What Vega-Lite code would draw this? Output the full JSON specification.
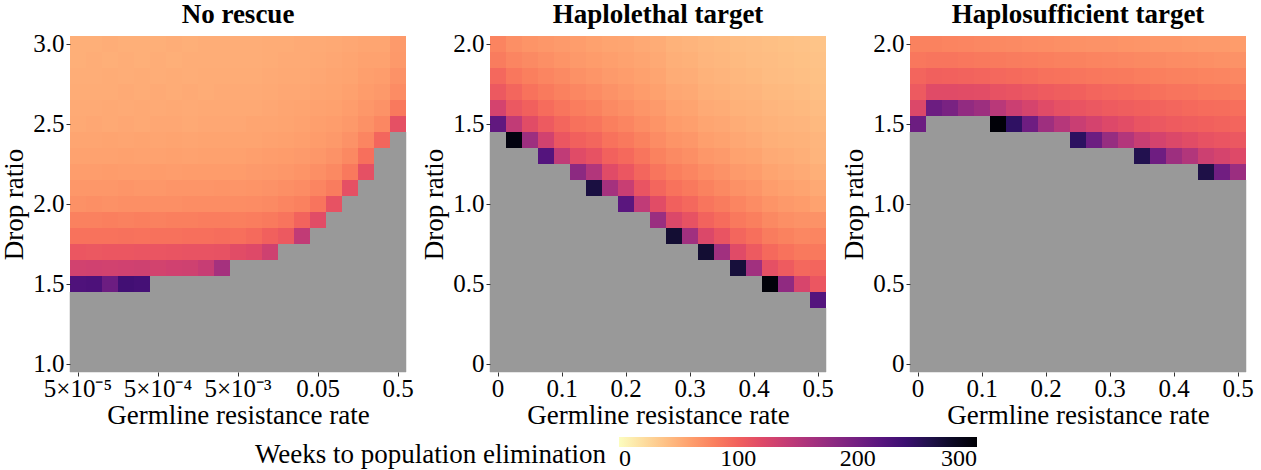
{
"$schema":"https://vega.github.io/schema/vega-lite/v6.json",
"background":"white",
"padding":{"left":0,"top":0,"right":0,"bottom":0},
"spacing":6,
"config":{
"font":"Liberation Serif",
"view":{"stroke":null},
"title":{"font":"Liberation Serif","fontSize":27,"fontWeight":"bold","color":"black","offset":3},
"axis":{"domain":false,"grid":false,"tickSize":4,"tickColor":"#333333","tickWidth":1,"labelFont":"Liberation Serif","labelFontSize":25,"labelColor":"black","labelPadding":2,"titleFont":"Liberation Serif","titleFontSize":27,"titleFontWeight":"normal","titleColor":"black"},
"axisX":{"labelAngle":0,"titlePadding":1,"labelPadding":0},
"axisY":{"titlePadding":4}
},
"resolve":{"scale":{"color":"shared"}},
"hconcat":[
{"title":"No rescue","width":336,"height":336,
"data":{"values":[
{"x":5e-5,"y":3,"w":50},{"x":5e-5,"y":2.9,"w":50},{"x":5e-5,"y":2.8,"w":51},{"x":5e-5,"y":2.7,"w":52},{"x":5e-5,"y":2.6,"w":53},{"x":5e-5,"y":2.5,"w":54},{"x":5e-5,"y":2.4,"w":56},{"x":5e-5,"y":2.3,"w":58},{"x":5e-5,"y":2.2,"w":61},{"x":5e-5,"y":2.1,"w":65},{"x":5e-5,"y":2,"w":69},{"x":5e-5,"y":1.9,"w":79},{"x":5e-5,"y":1.8,"w":88},{"x":5e-5,"y":1.7,"w":108},{"x":5e-5,"y":1.6,"w":130},{"x":5e-5,"y":1.5,"w":226},{"x":5e-5,"y":1.4},{"x":5e-5,"y":1.3},{"x":5e-5,"y":1.2},{"x":5e-5,"y":1.1},{"x":5e-5,"y":1},
{"x":7.92e-5,"y":3,"w":50},{"x":7.92e-5,"y":2.9,"w":51},{"x":7.92e-5,"y":2.8,"w":51},{"x":7.92e-5,"y":2.7,"w":52},{"x":7.92e-5,"y":2.6,"w":53},{"x":7.92e-5,"y":2.5,"w":55},{"x":7.92e-5,"y":2.4,"w":56},{"x":7.92e-5,"y":2.3,"w":58},{"x":7.92e-5,"y":2.2,"w":61},{"x":7.92e-5,"y":2.1,"w":65},{"x":7.92e-5,"y":2,"w":70},{"x":7.92e-5,"y":1.9,"w":79},{"x":7.92e-5,"y":1.8,"w":88},{"x":7.92e-5,"y":1.7,"w":107},{"x":7.92e-5,"y":1.6,"w":131},{"x":7.92e-5,"y":1.5,"w":228},{"x":7.92e-5,"y":1.4},{"x":7.92e-5,"y":1.3},{"x":7.92e-5,"y":1.2},{"x":7.92e-5,"y":1.1},{"x":7.92e-5,"y":1},
{"x":1.26e-4,"y":3,"w":51},{"x":1.26e-4,"y":2.9,"w":50},{"x":1.26e-4,"y":2.8,"w":52},{"x":1.26e-4,"y":2.7,"w":52},{"x":1.26e-4,"y":2.6,"w":54},{"x":1.26e-4,"y":2.5,"w":54},{"x":1.26e-4,"y":2.4,"w":57},{"x":1.26e-4,"y":2.3,"w":58},{"x":1.26e-4,"y":2.2,"w":62},{"x":1.26e-4,"y":2.1,"w":65},{"x":1.26e-4,"y":2,"w":69},{"x":1.26e-4,"y":1.9,"w":80},{"x":1.26e-4,"y":1.8,"w":88},{"x":1.26e-4,"y":1.7,"w":108},{"x":1.26e-4,"y":1.6,"w":130},{"x":1.26e-4,"y":1.5,"w":205},{"x":1.26e-4,"y":1.4},{"x":1.26e-4,"y":1.3},{"x":1.26e-4,"y":1.2},{"x":1.26e-4,"y":1.1},{"x":1.26e-4,"y":1},
{"x":1.99e-4,"y":3,"w":50},{"x":1.99e-4,"y":2.9,"w":51},{"x":1.99e-4,"y":2.8,"w":51},{"x":1.99e-4,"y":2.7,"w":53},{"x":1.99e-4,"y":2.6,"w":53},{"x":1.99e-4,"y":2.5,"w":55},{"x":1.99e-4,"y":2.4,"w":56},{"x":1.99e-4,"y":2.3,"w":59},{"x":1.99e-4,"y":2.2,"w":61},{"x":1.99e-4,"y":2.1,"w":66},{"x":1.99e-4,"y":2,"w":70},{"x":1.99e-4,"y":1.9,"w":79},{"x":1.99e-4,"y":1.8,"w":89},{"x":1.99e-4,"y":1.7,"w":108},{"x":1.99e-4,"y":1.6,"w":131},{"x":1.99e-4,"y":1.5,"w":235},{"x":1.99e-4,"y":1.4},{"x":1.99e-4,"y":1.3},{"x":1.99e-4,"y":1.2},{"x":1.99e-4,"y":1.1},{"x":1.99e-4,"y":1},
{"x":3.15e-4,"y":3,"w":50},{"x":3.15e-4,"y":2.9,"w":50},{"x":3.15e-4,"y":2.8,"w":52},{"x":3.15e-4,"y":2.7,"w":52},{"x":3.15e-4,"y":2.6,"w":54},{"x":3.15e-4,"y":2.5,"w":54},{"x":3.15e-4,"y":2.4,"w":57},{"x":3.15e-4,"y":2.3,"w":58},{"x":3.15e-4,"y":2.2,"w":61},{"x":3.15e-4,"y":2.1,"w":65},{"x":3.15e-4,"y":2,"w":70},{"x":3.15e-4,"y":1.9,"w":80},{"x":3.15e-4,"y":1.8,"w":88},{"x":3.15e-4,"y":1.7,"w":109},{"x":3.15e-4,"y":1.6,"w":132},{"x":3.15e-4,"y":1.5,"w":233},{"x":3.15e-4,"y":1.4},{"x":3.15e-4,"y":1.3},{"x":3.15e-4,"y":1.2},{"x":3.15e-4,"y":1.1},{"x":3.15e-4,"y":1},
{"x":5e-4,"y":3,"w":50},{"x":5e-4,"y":2.9,"w":51},{"x":5e-4,"y":2.8,"w":51},{"x":5e-4,"y":2.7,"w":53},{"x":5e-4,"y":2.6,"w":53},{"x":5e-4,"y":2.5,"w":55},{"x":5e-4,"y":2.4,"w":56},{"x":5e-4,"y":2.3,"w":58},{"x":5e-4,"y":2.2,"w":62},{"x":5e-4,"y":2.1,"w":65},{"x":5e-4,"y":2,"w":70},{"x":5e-4,"y":1.9,"w":79},{"x":5e-4,"y":1.8,"w":89},{"x":5e-4,"y":1.7,"w":109},{"x":5e-4,"y":1.6,"w":129},{"x":5e-4,"y":1.5},{"x":5e-4,"y":1.4},{"x":5e-4,"y":1.3},{"x":5e-4,"y":1.2},{"x":5e-4,"y":1.1},{"x":5e-4,"y":1},
{"x":7.92e-4,"y":3,"w":51},{"x":7.92e-4,"y":2.9,"w":50},{"x":7.92e-4,"y":2.8,"w":52},{"x":7.92e-4,"y":2.7,"w":52},{"x":7.92e-4,"y":2.6,"w":54},{"x":7.92e-4,"y":2.5,"w":55},{"x":7.92e-4,"y":2.4,"w":57},{"x":7.92e-4,"y":2.3,"w":59},{"x":7.92e-4,"y":2.2,"w":61},{"x":7.92e-4,"y":2.1,"w":66},{"x":7.92e-4,"y":2,"w":70},{"x":7.92e-4,"y":1.9,"w":80},{"x":7.92e-4,"y":1.8,"w":89},{"x":7.92e-4,"y":1.7,"w":110},{"x":7.92e-4,"y":1.6,"w":131},{"x":7.92e-4,"y":1.5},{"x":7.92e-4,"y":1.4},{"x":7.92e-4,"y":1.3},{"x":7.92e-4,"y":1.2},{"x":7.92e-4,"y":1.1},{"x":7.92e-4,"y":1},
{"x":1.26e-3,"y":3,"w":50},{"x":1.26e-3,"y":2.9,"w":51},{"x":1.26e-3,"y":2.8,"w":51},{"x":1.26e-3,"y":2.7,"w":53},{"x":1.26e-3,"y":2.6,"w":53},{"x":1.26e-3,"y":2.5,"w":54},{"x":1.26e-3,"y":2.4,"w":56},{"x":1.26e-3,"y":2.3,"w":58},{"x":1.26e-3,"y":2.2,"w":62},{"x":1.26e-3,"y":2.1,"w":66},{"x":1.26e-3,"y":2,"w":71},{"x":1.26e-3,"y":1.9,"w":80},{"x":1.26e-3,"y":1.8,"w":90},{"x":1.26e-3,"y":1.7,"w":111},{"x":1.26e-3,"y":1.6,"w":132},{"x":1.26e-3,"y":1.5},{"x":1.26e-3,"y":1.4},{"x":1.26e-3,"y":1.3},{"x":1.26e-3,"y":1.2},{"x":1.26e-3,"y":1.1},{"x":1.26e-3,"y":1},
{"x":1.99e-3,"y":3,"w":51},{"x":1.99e-3,"y":2.9,"w":51},{"x":1.99e-3,"y":2.8,"w":52},{"x":1.99e-3,"y":2.7,"w":52},{"x":1.99e-3,"y":2.6,"w":54},{"x":1.99e-3,"y":2.5,"w":55},{"x":1.99e-3,"y":2.4,"w":57},{"x":1.99e-3,"y":2.3,"w":59},{"x":1.99e-3,"y":2.2,"w":62},{"x":1.99e-3,"y":2.1,"w":66},{"x":1.99e-3,"y":2,"w":71},{"x":1.99e-3,"y":1.9,"w":81},{"x":1.99e-3,"y":1.8,"w":90},{"x":1.99e-3,"y":1.7,"w":111},{"x":1.99e-3,"y":1.6,"w":138},{"x":1.99e-3,"y":1.5},{"x":1.99e-3,"y":1.4},{"x":1.99e-3,"y":1.3},{"x":1.99e-3,"y":1.2},{"x":1.99e-3,"y":1.1},{"x":1.99e-3,"y":1},
{"x":3.15e-3,"y":3,"w":51},{"x":3.15e-3,"y":2.9,"w":51},{"x":3.15e-3,"y":2.8,"w":52},{"x":3.15e-3,"y":2.7,"w":53},{"x":3.15e-3,"y":2.6,"w":54},{"x":3.15e-3,"y":2.5,"w":55},{"x":3.15e-3,"y":2.4,"w":57},{"x":3.15e-3,"y":2.3,"w":59},{"x":3.15e-3,"y":2.2,"w":62},{"x":3.15e-3,"y":2.1,"w":67},{"x":3.15e-3,"y":2,"w":71},{"x":3.15e-3,"y":1.9,"w":81},{"x":3.15e-3,"y":1.8,"w":91},{"x":3.15e-3,"y":1.7,"w":112},{"x":3.15e-3,"y":1.6,"w":162},{"x":3.15e-3,"y":1.5},{"x":3.15e-3,"y":1.4},{"x":3.15e-3,"y":1.3},{"x":3.15e-3,"y":1.2},{"x":3.15e-3,"y":1.1},{"x":3.15e-3,"y":1},
{"x":5e-3,"y":3,"w":51},{"x":5e-3,"y":2.9,"w":51},{"x":5e-3,"y":2.8,"w":52},{"x":5e-3,"y":2.7,"w":53},{"x":5e-3,"y":2.6,"w":54},{"x":5e-3,"y":2.5,"w":55},{"x":5e-3,"y":2.4,"w":57},{"x":5e-3,"y":2.3,"w":59},{"x":5e-3,"y":2.2,"w":62},{"x":5e-3,"y":2.1,"w":66},{"x":5e-3,"y":2,"w":71},{"x":5e-3,"y":1.9,"w":80},{"x":5e-3,"y":1.8,"w":90},{"x":5e-3,"y":1.7,"w":117},{"x":5e-3,"y":1.6},{"x":5e-3,"y":1.5},{"x":5e-3,"y":1.4},{"x":5e-3,"y":1.3},{"x":5e-3,"y":1.2},{"x":5e-3,"y":1.1},{"x":5e-3,"y":1},
{"x":7.92e-3,"y":3,"w":51},{"x":7.92e-3,"y":2.9,"w":51},{"x":7.92e-3,"y":2.8,"w":52},{"x":7.92e-3,"y":2.7,"w":53},{"x":7.92e-3,"y":2.6,"w":54},{"x":7.92e-3,"y":2.5,"w":56},{"x":7.92e-3,"y":2.4,"w":57},{"x":7.92e-3,"y":2.3,"w":60},{"x":7.92e-3,"y":2.2,"w":63},{"x":7.92e-3,"y":2.1,"w":67},{"x":7.92e-3,"y":2,"w":72},{"x":7.92e-3,"y":1.9,"w":81},{"x":7.92e-3,"y":1.8,"w":93},{"x":7.92e-3,"y":1.7,"w":120},{"x":7.92e-3,"y":1.6},{"x":7.92e-3,"y":1.5},{"x":7.92e-3,"y":1.4},{"x":7.92e-3,"y":1.3},{"x":7.92e-3,"y":1.2},{"x":7.92e-3,"y":1.1},{"x":7.92e-3,"y":1},
{"x":0.0126,"y":3,"w":52},{"x":0.0126,"y":2.9,"w":52},{"x":0.0126,"y":2.8,"w":53},{"x":0.0126,"y":2.7,"w":54},{"x":0.0126,"y":2.6,"w":55},{"x":0.0126,"y":2.5,"w":56},{"x":0.0126,"y":2.4,"w":58},{"x":0.0126,"y":2.3,"w":61},{"x":0.0126,"y":2.2,"w":64},{"x":0.0126,"y":2.1,"w":68},{"x":0.0126,"y":2,"w":73},{"x":0.0126,"y":1.9,"w":83},{"x":0.0126,"y":1.8,"w":100},{"x":0.0126,"y":1.7,"w":132},{"x":0.0126,"y":1.6},{"x":0.0126,"y":1.5},{"x":0.0126,"y":1.4},{"x":0.0126,"y":1.3},{"x":0.0126,"y":1.2},{"x":0.0126,"y":1.1},{"x":0.0126,"y":1},
{"x":0.0199,"y":3,"w":52},{"x":0.0199,"y":2.9,"w":53},{"x":0.0199,"y":2.8,"w":54},{"x":0.0199,"y":2.7,"w":55},{"x":0.0199,"y":2.6,"w":56},{"x":0.0199,"y":2.5,"w":57},{"x":0.0199,"y":2.4,"w":59},{"x":0.0199,"y":2.3,"w":62},{"x":0.0199,"y":2.2,"w":65},{"x":0.0199,"y":2.1,"w":70},{"x":0.0199,"y":2,"w":76},{"x":0.0199,"y":1.9,"w":87},{"x":0.0199,"y":1.8,"w":106},{"x":0.0199,"y":1.7},{"x":0.0199,"y":1.6},{"x":0.0199,"y":1.5},{"x":0.0199,"y":1.4},{"x":0.0199,"y":1.3},{"x":0.0199,"y":1.2},{"x":0.0199,"y":1.1},{"x":0.0199,"y":1},
{"x":0.0315,"y":3,"w":53},{"x":0.0315,"y":2.9,"w":53},{"x":0.0315,"y":2.8,"w":54},{"x":0.0315,"y":2.7,"w":55},{"x":0.0315,"y":2.6,"w":57},{"x":0.0315,"y":2.5,"w":58},{"x":0.0315,"y":2.4,"w":60},{"x":0.0315,"y":2.3,"w":63},{"x":0.0315,"y":2.2,"w":67},{"x":0.0315,"y":2.1,"w":72},{"x":0.0315,"y":2,"w":79},{"x":0.0315,"y":1.9,"w":98},{"x":0.0315,"y":1.8,"w":142},{"x":0.0315,"y":1.7},{"x":0.0315,"y":1.6},{"x":0.0315,"y":1.5},{"x":0.0315,"y":1.4},{"x":0.0315,"y":1.3},{"x":0.0315,"y":1.2},{"x":0.0315,"y":1.1},{"x":0.0315,"y":1},
{"x":0.05,"y":3,"w":53},{"x":0.05,"y":2.9,"w":54},{"x":0.05,"y":2.8,"w":55},{"x":0.05,"y":2.7,"w":56},{"x":0.05,"y":2.6,"w":58},{"x":0.05,"y":2.5,"w":60},{"x":0.05,"y":2.4,"w":62},{"x":0.05,"y":2.3,"w":65},{"x":0.05,"y":2.2,"w":70},{"x":0.05,"y":2.1,"w":76},{"x":0.05,"y":2,"w":87},{"x":0.05,"y":1.9,"w":117},{"x":0.05,"y":1.8},{"x":0.05,"y":1.7},{"x":0.05,"y":1.6},{"x":0.05,"y":1.5},{"x":0.05,"y":1.4},{"x":0.05,"y":1.3},{"x":0.05,"y":1.2},{"x":0.05,"y":1.1},{"x":0.05,"y":1},
{"x":0.0792,"y":3,"w":54},{"x":0.0792,"y":2.9,"w":55},{"x":0.0792,"y":2.8,"w":56},{"x":0.0792,"y":2.7,"w":57},{"x":0.0792,"y":2.6,"w":59},{"x":0.0792,"y":2.5,"w":61},{"x":0.0792,"y":2.4,"w":64},{"x":0.0792,"y":2.3,"w":68},{"x":0.0792,"y":2.2,"w":74},{"x":0.0792,"y":2.1,"w":82},{"x":0.0792,"y":2,"w":112},{"x":0.0792,"y":1.9},{"x":0.0792,"y":1.8},{"x":0.0792,"y":1.7},{"x":0.0792,"y":1.6},{"x":0.0792,"y":1.5},{"x":0.0792,"y":1.4},{"x":0.0792,"y":1.3},{"x":0.0792,"y":1.2},{"x":0.0792,"y":1.1},{"x":0.0792,"y":1},
{"x":0.126,"y":3,"w":55},{"x":0.126,"y":2.9,"w":56},{"x":0.126,"y":2.8,"w":57},{"x":0.126,"y":2.7,"w":59},{"x":0.126,"y":2.6,"w":61},{"x":0.126,"y":2.5,"w":64},{"x":0.126,"y":2.4,"w":68},{"x":0.126,"y":2.3,"w":74},{"x":0.126,"y":2.2,"w":84},{"x":0.126,"y":2.1,"w":114},{"x":0.126,"y":2},{"x":0.126,"y":1.9},{"x":0.126,"y":1.8},{"x":0.126,"y":1.7},{"x":0.126,"y":1.6},{"x":0.126,"y":1.5},{"x":0.126,"y":1.4},{"x":0.126,"y":1.3},{"x":0.126,"y":1.2},{"x":0.126,"y":1.1},{"x":0.126,"y":1},
{"x":0.199,"y":3,"w":56},{"x":0.199,"y":2.9,"w":58},{"x":0.199,"y":2.8,"w":60},{"x":0.199,"y":2.7,"w":62},{"x":0.199,"y":2.6,"w":65},{"x":0.199,"y":2.5,"w":69},{"x":0.199,"y":2.4,"w":76},{"x":0.199,"y":2.3,"w":90},{"x":0.199,"y":2.2,"w":114},{"x":0.199,"y":2.1},{"x":0.199,"y":2},{"x":0.199,"y":1.9},{"x":0.199,"y":1.8},{"x":0.199,"y":1.7},{"x":0.199,"y":1.6},{"x":0.199,"y":1.5},{"x":0.199,"y":1.4},{"x":0.199,"y":1.3},{"x":0.199,"y":1.2},{"x":0.199,"y":1.1},{"x":0.199,"y":1},
{"x":0.315,"y":3,"w":56},{"x":0.315,"y":2.9,"w":58},{"x":0.315,"y":2.8,"w":61},{"x":0.315,"y":2.7,"w":64},{"x":0.315,"y":2.6,"w":68},{"x":0.315,"y":2.5,"w":75},{"x":0.315,"y":2.4,"w":96},{"x":0.315,"y":2.3},{"x":0.315,"y":2.2},{"x":0.315,"y":2.1},{"x":0.315,"y":2},{"x":0.315,"y":1.9},{"x":0.315,"y":1.8},{"x":0.315,"y":1.7},{"x":0.315,"y":1.6},{"x":0.315,"y":1.5},{"x":0.315,"y":1.4},{"x":0.315,"y":1.3},{"x":0.315,"y":1.2},{"x":0.315,"y":1.1},{"x":0.315,"y":1},
{"x":0.5,"y":3,"w":63},{"x":0.5,"y":2.9,"w":64},{"x":0.5,"y":2.8,"w":68},{"x":0.5,"y":2.7,"w":72},{"x":0.5,"y":2.6,"w":84},{"x":0.5,"y":2.5,"w":114},{"x":0.5,"y":2.4},{"x":0.5,"y":2.3},{"x":0.5,"y":2.2},{"x":0.5,"y":2.1},{"x":0.5,"y":2},{"x":0.5,"y":1.9},{"x":0.5,"y":1.8},{"x":0.5,"y":1.7},{"x":0.5,"y":1.6},{"x":0.5,"y":1.5},{"x":0.5,"y":1.4},{"x":0.5,"y":1.3},{"x":0.5,"y":1.2},{"x":0.5,"y":1.1},{"x":0.5,"y":1}
]},
"encoding":{
"x":{"field":"x","type":"ordinal","title":"Germline resistance rate","scale":{"paddingInner":0,"paddingOuter":0},"axis":{"values":[0.00005,0.0005,0.005,0.05,0.5],"labelExpr":"datum.value == 0.00005 ? '5×10⁻⁵' : datum.value == 0.0005 ? '5×10⁻⁴' : datum.value == 0.005 ? '5×10⁻³' : datum.label"}},
"y":{"field":"y","type":"ordinal","title":"Drop ratio","scale":{"domain":[3,2.9,2.8,2.7,2.6,2.5,2.4,2.3,2.2,2.1,2,1.9,1.8,1.7,1.6,1.5,1.4,1.3,1.2,1.1,1],"paddingInner":0,"paddingOuter":0},"axis":{"values":[3,2.5,2,1.5,1],"labelExpr":"format(datum.value, '.1f')"}}
},
"layer":[
{"transform":[{"filter":"!isValid(datum.w)"}],"mark":{"type":"rect","color":"#999999","stroke":"#999999","strokeWidth":0.5},"encoding":{}},
{"transform":[{"filter":"isValid(datum.w)"}],"mark":{"type":"rect"},"encoding":{
"color":{"field":"w","type":"quantitative","scale":{"scheme":"magma","reverse":true,"domain":[0,300]},"legend":{"type":"gradient","title":"Weeks to population elimination","orient":"none","legendX":185,"legendY":401,"direction":"horizontal","titleOrient":"left","titleBaseline":"top","titleLimit":800,"gradientLength":358,"gradientThickness":10,"values":[0,100,200,300],"labelFontSize":24,"labelOffset":0,"labelFont":"Liberation Serif","labelColor":"black","labelAlign":"center","titleFontSize":27,"titleFont":"Liberation Serif","titleFontWeight":"normal","titleColor":"black","titlePadding":12,"gradientStrokeWidth":0}}}}
]},
{"title":"Haplolethal target","width":336,"height":336,
"data":{"values":[
{"x":0,"y":0},{"x":0,"y":0.1},{"x":0,"y":0.2},{"x":0,"y":0.3},{"x":0,"y":0.4},{"x":0,"y":0.5},{"x":0,"y":0.6},{"x":0,"y":0.7},{"x":0,"y":0.8},{"x":0,"y":0.9},{"x":0,"y":1},{"x":0,"y":1.1},{"x":0,"y":1.2},{"x":0,"y":1.3},{"x":0,"y":1.4},{"x":0,"y":1.5,"w":213},{"x":0,"y":1.6,"w":128},{"x":0,"y":1.7,"w":106},{"x":0,"y":1.8,"w":95},{"x":0,"y":1.9,"w":82},{"x":0,"y":2,"w":77},
{"x":0.025,"y":0},{"x":0.025,"y":0.1},{"x":0.025,"y":0.2},{"x":0.025,"y":0.3},{"x":0.025,"y":0.4},{"x":0.025,"y":0.5},{"x":0.025,"y":0.6},{"x":0.025,"y":0.7},{"x":0.025,"y":0.8},{"x":0.025,"y":0.9},{"x":0.025,"y":1},{"x":0.025,"y":1.1},{"x":0.025,"y":1.2},{"x":0.025,"y":1.3},{"x":0.025,"y":1.4,"w":292},{"x":0.025,"y":1.5,"w":142},{"x":0.025,"y":1.6,"w":107},{"x":0.025,"y":1.7,"w":96},{"x":0.025,"y":1.8,"w":85},{"x":0.025,"y":1.9,"w":76},{"x":0.025,"y":2,"w":70},
{"x":0.05,"y":0},{"x":0.05,"y":0.1},{"x":0.05,"y":0.2},{"x":0.05,"y":0.3},{"x":0.05,"y":0.4},{"x":0.05,"y":0.5},{"x":0.05,"y":0.6},{"x":0.05,"y":0.7},{"x":0.05,"y":0.8},{"x":0.05,"y":0.9},{"x":0.05,"y":1},{"x":0.05,"y":1.1},{"x":0.05,"y":1.2},{"x":0.05,"y":1.3},{"x":0.05,"y":1.4,"w":168},{"x":0.05,"y":1.5,"w":117},{"x":0.05,"y":1.6,"w":100},{"x":0.05,"y":1.7,"w":88},{"x":0.05,"y":1.8,"w":80},{"x":0.05,"y":1.9,"w":73},{"x":0.05,"y":2,"w":67},
{"x":0.075,"y":0},{"x":0.075,"y":0.1},{"x":0.075,"y":0.2},{"x":0.075,"y":0.3},{"x":0.075,"y":0.4},{"x":0.075,"y":0.5},{"x":0.075,"y":0.6},{"x":0.075,"y":0.7},{"x":0.075,"y":0.8},{"x":0.075,"y":0.9},{"x":0.075,"y":1},{"x":0.075,"y":1.1},{"x":0.075,"y":1.2},{"x":0.075,"y":1.3,"w":222},{"x":0.075,"y":1.4,"w":130},{"x":0.075,"y":1.5,"w":105},{"x":0.075,"y":1.6,"w":92},{"x":0.075,"y":1.7,"w":83},{"x":0.075,"y":1.8,"w":76},{"x":0.075,"y":1.9,"w":70},{"x":0.075,"y":2,"w":65},
{"x":0.1,"y":0},{"x":0.1,"y":0.1},{"x":0.1,"y":0.2},{"x":0.1,"y":0.3},{"x":0.1,"y":0.4},{"x":0.1,"y":0.5},{"x":0.1,"y":0.6},{"x":0.1,"y":0.7},{"x":0.1,"y":0.8},{"x":0.1,"y":0.9},{"x":0.1,"y":1},{"x":0.1,"y":1.1},{"x":0.1,"y":1.2},{"x":0.1,"y":1.3,"w":143},{"x":0.1,"y":1.4,"w":108},{"x":0.1,"y":1.5,"w":96},{"x":0.1,"y":1.6,"w":86},{"x":0.1,"y":1.7,"w":79},{"x":0.1,"y":1.8,"w":73},{"x":0.1,"y":1.9,"w":67},{"x":0.1,"y":2,"w":63},
{"x":0.125,"y":0},{"x":0.125,"y":0.1},{"x":0.125,"y":0.2},{"x":0.125,"y":0.3},{"x":0.125,"y":0.4},{"x":0.125,"y":0.5},{"x":0.125,"y":0.6},{"x":0.125,"y":0.7},{"x":0.125,"y":0.8},{"x":0.125,"y":0.9},{"x":0.125,"y":1},{"x":0.125,"y":1.1},{"x":0.125,"y":1.2,"w":180},{"x":0.125,"y":1.3,"w":118},{"x":0.125,"y":1.4,"w":100},{"x":0.125,"y":1.5,"w":89},{"x":0.125,"y":1.6,"w":81},{"x":0.125,"y":1.7,"w":75},{"x":0.125,"y":1.8,"w":69},{"x":0.125,"y":1.9,"w":64},{"x":0.125,"y":2,"w":61},
{"x":0.15,"y":0},{"x":0.15,"y":0.1},{"x":0.15,"y":0.2},{"x":0.15,"y":0.3},{"x":0.15,"y":0.4},{"x":0.15,"y":0.5},{"x":0.15,"y":0.6},{"x":0.15,"y":0.7},{"x":0.15,"y":0.8},{"x":0.15,"y":0.9},{"x":0.15,"y":1},{"x":0.15,"y":1.1,"w":265},{"x":0.15,"y":1.2,"w":153},{"x":0.15,"y":1.3,"w":112},{"x":0.15,"y":1.4,"w":96},{"x":0.15,"y":1.5,"w":86},{"x":0.15,"y":1.6,"w":78},{"x":0.15,"y":1.7,"w":72},{"x":0.15,"y":1.8,"w":66},{"x":0.15,"y":1.9,"w":62},{"x":0.15,"y":2,"w":59},
{"x":0.175,"y":0},{"x":0.175,"y":0.1},{"x":0.175,"y":0.2},{"x":0.175,"y":0.3},{"x":0.175,"y":0.4},{"x":0.175,"y":0.5},{"x":0.175,"y":0.6},{"x":0.175,"y":0.7},{"x":0.175,"y":0.8},{"x":0.175,"y":0.9},{"x":0.175,"y":1},{"x":0.175,"y":1.1,"w":162},{"x":0.175,"y":1.2,"w":118},{"x":0.175,"y":1.3,"w":99},{"x":0.175,"y":1.4,"w":88},{"x":0.175,"y":1.5,"w":80},{"x":0.175,"y":1.6,"w":73},{"x":0.175,"y":1.7,"w":68},{"x":0.175,"y":1.8,"w":63},{"x":0.175,"y":1.9,"w":60},{"x":0.175,"y":2,"w":57},
{"x":0.2,"y":0},{"x":0.2,"y":0.1},{"x":0.2,"y":0.2},{"x":0.2,"y":0.3},{"x":0.2,"y":0.4},{"x":0.2,"y":0.5},{"x":0.2,"y":0.6},{"x":0.2,"y":0.7},{"x":0.2,"y":0.8},{"x":0.2,"y":0.9},{"x":0.2,"y":1,"w":218},{"x":0.2,"y":1.1,"w":137},{"x":0.2,"y":1.2,"w":108},{"x":0.2,"y":1.3,"w":94},{"x":0.2,"y":1.4,"w":84},{"x":0.2,"y":1.5,"w":76},{"x":0.2,"y":1.6,"w":70},{"x":0.2,"y":1.7,"w":65},{"x":0.2,"y":1.8,"w":61},{"x":0.2,"y":1.9,"w":58},{"x":0.2,"y":2,"w":56},
{"x":0.225,"y":0},{"x":0.225,"y":0.1},{"x":0.225,"y":0.2},{"x":0.225,"y":0.3},{"x":0.225,"y":0.4},{"x":0.225,"y":0.5},{"x":0.225,"y":0.6},{"x":0.225,"y":0.7},{"x":0.225,"y":0.8},{"x":0.225,"y":0.9},{"x":0.225,"y":1,"w":143},{"x":0.225,"y":1.1,"w":110},{"x":0.225,"y":1.2,"w":96},{"x":0.225,"y":1.3,"w":86},{"x":0.225,"y":1.4,"w":78},{"x":0.225,"y":1.5,"w":71},{"x":0.225,"y":1.6,"w":66},{"x":0.225,"y":1.7,"w":62},{"x":0.225,"y":1.8,"w":59},{"x":0.225,"y":1.9,"w":56},{"x":0.225,"y":2,"w":54},
{"x":0.25,"y":0},{"x":0.25,"y":0.1},{"x":0.25,"y":0.2},{"x":0.25,"y":0.3},{"x":0.25,"y":0.4},{"x":0.25,"y":0.5},{"x":0.25,"y":0.6},{"x":0.25,"y":0.7},{"x":0.25,"y":0.8},{"x":0.25,"y":0.9,"w":170},{"x":0.25,"y":1,"w":117},{"x":0.25,"y":1.1,"w":96},{"x":0.25,"y":1.2,"w":86},{"x":0.25,"y":1.3,"w":78},{"x":0.25,"y":1.4,"w":72},{"x":0.25,"y":1.5,"w":67},{"x":0.25,"y":1.6,"w":63},{"x":0.25,"y":1.7,"w":59},{"x":0.25,"y":1.8,"w":56},{"x":0.25,"y":1.9,"w":54},{"x":0.25,"y":2,"w":52},
{"x":0.275,"y":0},{"x":0.275,"y":0.1},{"x":0.275,"y":0.2},{"x":0.275,"y":0.3},{"x":0.275,"y":0.4},{"x":0.275,"y":0.5},{"x":0.275,"y":0.6},{"x":0.275,"y":0.7},{"x":0.275,"y":0.8,"w":272},{"x":0.275,"y":0.9,"w":122},{"x":0.275,"y":1,"w":100},{"x":0.275,"y":1.1,"w":88},{"x":0.275,"y":1.2,"w":80},{"x":0.275,"y":1.3,"w":73},{"x":0.275,"y":1.4,"w":67},{"x":0.275,"y":1.5,"w":62},{"x":0.275,"y":1.6,"w":58},{"x":0.275,"y":1.7,"w":55},{"x":0.275,"y":1.8,"w":52},{"x":0.275,"y":1.9,"w":50},{"x":0.275,"y":2,"w":48},
{"x":0.3,"y":0},{"x":0.3,"y":0.1},{"x":0.3,"y":0.2},{"x":0.3,"y":0.3},{"x":0.3,"y":0.4},{"x":0.3,"y":0.5},{"x":0.3,"y":0.6},{"x":0.3,"y":0.7},{"x":0.3,"y":0.8,"w":165},{"x":0.3,"y":0.9,"w":112},{"x":0.3,"y":1,"w":95},{"x":0.3,"y":1.1,"w":84},{"x":0.3,"y":1.2,"w":76},{"x":0.3,"y":1.3,"w":70},{"x":0.3,"y":1.4,"w":65},{"x":0.3,"y":1.5,"w":60},{"x":0.3,"y":1.6,"w":57},{"x":0.3,"y":1.7,"w":54},{"x":0.3,"y":1.8,"w":51},{"x":0.3,"y":1.9,"w":49},{"x":0.3,"y":2,"w":47},
{"x":0.325,"y":0},{"x":0.325,"y":0.1},{"x":0.325,"y":0.2},{"x":0.325,"y":0.3},{"x":0.325,"y":0.4},{"x":0.325,"y":0.5},{"x":0.325,"y":0.6},{"x":0.325,"y":0.7,"w":272},{"x":0.325,"y":0.8,"w":122},{"x":0.325,"y":0.9,"w":98},{"x":0.325,"y":1,"w":86},{"x":0.325,"y":1.1,"w":78},{"x":0.325,"y":1.2,"w":71},{"x":0.325,"y":1.3,"w":65},{"x":0.325,"y":1.4,"w":60},{"x":0.325,"y":1.5,"w":56},{"x":0.325,"y":1.6,"w":53},{"x":0.325,"y":1.7,"w":50},{"x":0.325,"y":1.8,"w":48},{"x":0.325,"y":1.9,"w":46},{"x":0.325,"y":2,"w":45},
{"x":0.35,"y":0},{"x":0.35,"y":0.1},{"x":0.35,"y":0.2},{"x":0.35,"y":0.3},{"x":0.35,"y":0.4},{"x":0.35,"y":0.5},{"x":0.35,"y":0.6},{"x":0.35,"y":0.7,"w":165},{"x":0.35,"y":0.8,"w":110},{"x":0.35,"y":0.9,"w":92},{"x":0.35,"y":1,"w":82},{"x":0.35,"y":1.1,"w":74},{"x":0.35,"y":1.2,"w":68},{"x":0.35,"y":1.3,"w":63},{"x":0.35,"y":1.4,"w":58},{"x":0.35,"y":1.5,"w":55},{"x":0.35,"y":1.6,"w":52},{"x":0.35,"y":1.7,"w":49},{"x":0.35,"y":1.8,"w":47},{"x":0.35,"y":1.9,"w":45},{"x":0.35,"y":2,"w":44},
{"x":0.375,"y":0},{"x":0.375,"y":0.1},{"x":0.375,"y":0.2},{"x":0.375,"y":0.3},{"x":0.375,"y":0.4},{"x":0.375,"y":0.5},{"x":0.375,"y":0.6,"w":268},{"x":0.375,"y":0.7,"w":118},{"x":0.375,"y":0.8,"w":96},{"x":0.375,"y":0.9,"w":84},{"x":0.375,"y":1,"w":76},{"x":0.375,"y":1.1,"w":69},{"x":0.375,"y":1.2,"w":63},{"x":0.375,"y":1.3,"w":58},{"x":0.375,"y":1.4,"w":55},{"x":0.375,"y":1.5,"w":52},{"x":0.375,"y":1.6,"w":49},{"x":0.375,"y":1.7,"w":47},{"x":0.375,"y":1.8,"w":45},{"x":0.375,"y":1.9,"w":43},{"x":0.375,"y":2,"w":42},
{"x":0.4,"y":0},{"x":0.4,"y":0.1},{"x":0.4,"y":0.2},{"x":0.4,"y":0.3},{"x":0.4,"y":0.4},{"x":0.4,"y":0.5},{"x":0.4,"y":0.6,"w":165},{"x":0.4,"y":0.7,"w":105},{"x":0.4,"y":0.8,"w":90},{"x":0.4,"y":0.9,"w":80},{"x":0.4,"y":1,"w":72},{"x":0.4,"y":1.1,"w":66},{"x":0.4,"y":1.2,"w":61},{"x":0.4,"y":1.3,"w":57},{"x":0.4,"y":1.4,"w":53},{"x":0.4,"y":1.5,"w":50},{"x":0.4,"y":1.6,"w":48},{"x":0.4,"y":1.7,"w":46},{"x":0.4,"y":1.8,"w":44},{"x":0.4,"y":1.9,"w":42},{"x":0.4,"y":2,"w":41},
{"x":0.425,"y":0},{"x":0.425,"y":0.1},{"x":0.425,"y":0.2},{"x":0.425,"y":0.3},{"x":0.425,"y":0.4},{"x":0.425,"y":0.5,"w":296},{"x":0.425,"y":0.6,"w":114},{"x":0.425,"y":0.7,"w":94},{"x":0.425,"y":0.8,"w":82},{"x":0.425,"y":0.9,"w":74},{"x":0.425,"y":1,"w":67},{"x":0.425,"y":1.1,"w":61},{"x":0.425,"y":1.2,"w":57},{"x":0.425,"y":1.3,"w":53},{"x":0.425,"y":1.4,"w":50},{"x":0.425,"y":1.5,"w":48},{"x":0.425,"y":1.6,"w":46},{"x":0.425,"y":1.7,"w":44},{"x":0.425,"y":1.8,"w":42},{"x":0.425,"y":1.9,"w":41},{"x":0.425,"y":2,"w":40},
{"x":0.45,"y":0},{"x":0.45,"y":0.1},{"x":0.45,"y":0.2},{"x":0.45,"y":0.3},{"x":0.45,"y":0.4},{"x":0.45,"y":0.5,"w":177},{"x":0.45,"y":0.6,"w":104},{"x":0.45,"y":0.7,"w":88},{"x":0.45,"y":0.8,"w":78},{"x":0.45,"y":0.9,"w":70},{"x":0.45,"y":1,"w":64},{"x":0.45,"y":1.1,"w":59},{"x":0.45,"y":1.2,"w":55},{"x":0.45,"y":1.3,"w":52},{"x":0.45,"y":1.4,"w":49},{"x":0.45,"y":1.5,"w":47},{"x":0.45,"y":1.6,"w":45},{"x":0.45,"y":1.7,"w":43},{"x":0.45,"y":1.8,"w":41},{"x":0.45,"y":1.9,"w":40},{"x":0.45,"y":2,"w":39},
{"x":0.475,"y":0},{"x":0.475,"y":0.1},{"x":0.475,"y":0.2},{"x":0.475,"y":0.3},{"x":0.475,"y":0.4},{"x":0.475,"y":0.5,"w":125},{"x":0.475,"y":0.6,"w":95},{"x":0.475,"y":0.7,"w":84},{"x":0.475,"y":0.8,"w":75},{"x":0.475,"y":0.9,"w":68},{"x":0.475,"y":1,"w":62},{"x":0.475,"y":1.1,"w":57},{"x":0.475,"y":1.2,"w":53},{"x":0.475,"y":1.3,"w":50},{"x":0.475,"y":1.4,"w":48},{"x":0.475,"y":1.5,"w":46},{"x":0.475,"y":1.6,"w":44},{"x":0.475,"y":1.7,"w":42},{"x":0.475,"y":1.8,"w":40},{"x":0.475,"y":1.9,"w":39},{"x":0.475,"y":2,"w":38},
{"x":0.5,"y":0},{"x":0.5,"y":0.1},{"x":0.5,"y":0.2},{"x":0.5,"y":0.3},{"x":0.5,"y":0.4,"w":222},{"x":0.5,"y":0.5,"w":108},{"x":0.5,"y":0.6,"w":97},{"x":0.5,"y":0.7,"w":84},{"x":0.5,"y":0.8,"w":76},{"x":0.5,"y":0.9,"w":68},{"x":0.5,"y":1,"w":58},{"x":0.5,"y":1.1,"w":54},{"x":0.5,"y":1.2,"w":50},{"x":0.5,"y":1.3,"w":47},{"x":0.5,"y":1.4,"w":46},{"x":0.5,"y":1.5,"w":44},{"x":0.5,"y":1.6,"w":42},{"x":0.5,"y":1.7,"w":40},{"x":0.5,"y":1.8,"w":39},{"x":0.5,"y":1.9,"w":38},{"x":0.5,"y":2,"w":37}
]},
"encoding":{
"x":{"field":"x","type":"ordinal","title":"Germline resistance rate","scale":{"paddingInner":0,"paddingOuter":0},"axis":{"values":[0,0.1,0.2,0.3,0.4,0.5]}},
"y":{"field":"y","type":"ordinal","title":"Drop ratio","scale":{"domain":[2,1.9,1.8,1.7,1.6,1.5,1.4,1.3,1.2,1.1,1,0.9,0.8,0.7,0.6,0.5,0.4,0.3,0.2,0.1,0],"paddingInner":0,"paddingOuter":0},"axis":{"values":[2,1.5,1,0.5,0],"labelExpr":"datum.value == 0 ? '0' : format(datum.value, '.1f')"}}
},
"layer":[
{"transform":[{"filter":"!isValid(datum.w)"}],"mark":{"type":"rect","color":"#999999","stroke":"#999999","strokeWidth":0.5},"encoding":{}},
{"transform":[{"filter":"isValid(datum.w)"}],"mark":{"type":"rect"},"encoding":{
"color":{"field":"w","type":"quantitative","scale":{"scheme":"magma","reverse":true,"domain":[0,300]},"legend":{"type":"gradient","title":"Weeks to population elimination","orient":"none","legendX":185,"legendY":401,"direction":"horizontal","titleOrient":"left","titleBaseline":"top","titleLimit":800,"gradientLength":358,"gradientThickness":10,"values":[0,100,200,300],"labelFontSize":24,"labelOffset":0,"labelFont":"Liberation Serif","labelColor":"black","labelAlign":"center","titleFontSize":27,"titleFont":"Liberation Serif","titleFontWeight":"normal","titleColor":"black","titlePadding":12,"gradientStrokeWidth":0}}}}
]},
{"title":"Haplosufficient target","width":336,"height":336,
"data":{"values":[
{"x":0,"y":0},{"x":0,"y":0.1},{"x":0,"y":0.2},{"x":0,"y":0.3},{"x":0,"y":0.4},{"x":0,"y":0.5},{"x":0,"y":0.6},{"x":0,"y":0.7},{"x":0,"y":0.8},{"x":0,"y":0.9},{"x":0,"y":1},{"x":0,"y":1.1},{"x":0,"y":1.2},{"x":0,"y":1.3},{"x":0,"y":1.4},{"x":0,"y":1.5,"w":205},{"x":0,"y":1.6,"w":122},{"x":0,"y":1.7,"w":105},{"x":0,"y":1.8,"w":97},{"x":0,"y":1.9,"w":85},{"x":0,"y":2,"w":78},
{"x":0.025,"y":0},{"x":0.025,"y":0.1},{"x":0.025,"y":0.2},{"x":0.025,"y":0.3},{"x":0.025,"y":0.4},{"x":0.025,"y":0.5},{"x":0.025,"y":0.6},{"x":0.025,"y":0.7},{"x":0.025,"y":0.8},{"x":0.025,"y":0.9},{"x":0.025,"y":1},{"x":0.025,"y":1.1},{"x":0.025,"y":1.2},{"x":0.025,"y":1.3},{"x":0.025,"y":1.4},{"x":0.025,"y":1.5},{"x":0.025,"y":1.6,"w":205},{"x":0.025,"y":1.7,"w":118},{"x":0.025,"y":1.8,"w":100},{"x":0.025,"y":1.9,"w":86},{"x":0.025,"y":2,"w":78},
{"x":0.05,"y":0},{"x":0.05,"y":0.1},{"x":0.05,"y":0.2},{"x":0.05,"y":0.3},{"x":0.05,"y":0.4},{"x":0.05,"y":0.5},{"x":0.05,"y":0.6},{"x":0.05,"y":0.7},{"x":0.05,"y":0.8},{"x":0.05,"y":0.9},{"x":0.05,"y":1},{"x":0.05,"y":1.1},{"x":0.05,"y":1.2},{"x":0.05,"y":1.3},{"x":0.05,"y":1.4},{"x":0.05,"y":1.5},{"x":0.05,"y":1.6,"w":195},{"x":0.05,"y":1.7,"w":118},{"x":0.05,"y":1.8,"w":99},{"x":0.05,"y":1.9,"w":86},{"x":0.05,"y":2,"w":77},
{"x":0.075,"y":0},{"x":0.075,"y":0.1},{"x":0.075,"y":0.2},{"x":0.075,"y":0.3},{"x":0.075,"y":0.4},{"x":0.075,"y":0.5},{"x":0.075,"y":0.6},{"x":0.075,"y":0.7},{"x":0.075,"y":0.8},{"x":0.075,"y":0.9},{"x":0.075,"y":1},{"x":0.075,"y":1.1},{"x":0.075,"y":1.2},{"x":0.075,"y":1.3},{"x":0.075,"y":1.4},{"x":0.075,"y":1.5},{"x":0.075,"y":1.6,"w":176},{"x":0.075,"y":1.7,"w":117},{"x":0.075,"y":1.8,"w":98},{"x":0.075,"y":1.9,"w":85},{"x":0.075,"y":2,"w":76},
{"x":0.1,"y":0},{"x":0.1,"y":0.1},{"x":0.1,"y":0.2},{"x":0.1,"y":0.3},{"x":0.1,"y":0.4},{"x":0.1,"y":0.5},{"x":0.1,"y":0.6},{"x":0.1,"y":0.7},{"x":0.1,"y":0.8},{"x":0.1,"y":0.9},{"x":0.1,"y":1},{"x":0.1,"y":1.1},{"x":0.1,"y":1.2},{"x":0.1,"y":1.3},{"x":0.1,"y":1.4},{"x":0.1,"y":1.5},{"x":0.1,"y":1.6,"w":168},{"x":0.1,"y":1.7,"w":116},{"x":0.1,"y":1.8,"w":97},{"x":0.1,"y":1.9,"w":84},{"x":0.1,"y":2,"w":75},
{"x":0.125,"y":0},{"x":0.125,"y":0.1},{"x":0.125,"y":0.2},{"x":0.125,"y":0.3},{"x":0.125,"y":0.4},{"x":0.125,"y":0.5},{"x":0.125,"y":0.6},{"x":0.125,"y":0.7},{"x":0.125,"y":0.8},{"x":0.125,"y":0.9},{"x":0.125,"y":1},{"x":0.125,"y":1.1},{"x":0.125,"y":1.2},{"x":0.125,"y":1.3},{"x":0.125,"y":1.4},{"x":0.125,"y":1.5,"w":297},{"x":0.125,"y":1.6,"w":148},{"x":0.125,"y":1.7,"w":112},{"x":0.125,"y":1.8,"w":95},{"x":0.125,"y":1.9,"w":83},{"x":0.125,"y":2,"w":74},
{"x":0.15,"y":0},{"x":0.15,"y":0.1},{"x":0.15,"y":0.2},{"x":0.15,"y":0.3},{"x":0.15,"y":0.4},{"x":0.15,"y":0.5},{"x":0.15,"y":0.6},{"x":0.15,"y":0.7},{"x":0.15,"y":0.8},{"x":0.15,"y":0.9},{"x":0.15,"y":1},{"x":0.15,"y":1.1},{"x":0.15,"y":1.2},{"x":0.15,"y":1.3},{"x":0.15,"y":1.4},{"x":0.15,"y":1.5,"w":248},{"x":0.15,"y":1.6,"w":135},{"x":0.15,"y":1.7,"w":110},{"x":0.15,"y":1.8,"w":93},{"x":0.15,"y":1.9,"w":82},{"x":0.15,"y":2,"w":73},
{"x":0.175,"y":0},{"x":0.175,"y":0.1},{"x":0.175,"y":0.2},{"x":0.175,"y":0.3},{"x":0.175,"y":0.4},{"x":0.175,"y":0.5},{"x":0.175,"y":0.6},{"x":0.175,"y":0.7},{"x":0.175,"y":0.8},{"x":0.175,"y":0.9},{"x":0.175,"y":1},{"x":0.175,"y":1.1},{"x":0.175,"y":1.2},{"x":0.175,"y":1.3},{"x":0.175,"y":1.4},{"x":0.175,"y":1.5,"w":203},{"x":0.175,"y":1.6,"w":127},{"x":0.175,"y":1.7,"w":107},{"x":0.175,"y":1.8,"w":91},{"x":0.175,"y":1.9,"w":81},{"x":0.175,"y":2,"w":72},
{"x":0.2,"y":0},{"x":0.2,"y":0.1},{"x":0.2,"y":0.2},{"x":0.2,"y":0.3},{"x":0.2,"y":0.4},{"x":0.2,"y":0.5},{"x":0.2,"y":0.6},{"x":0.2,"y":0.7},{"x":0.2,"y":0.8},{"x":0.2,"y":0.9},{"x":0.2,"y":1},{"x":0.2,"y":1.1},{"x":0.2,"y":1.2},{"x":0.2,"y":1.3},{"x":0.2,"y":1.4},{"x":0.2,"y":1.5,"w":167},{"x":0.2,"y":1.6,"w":118},{"x":0.2,"y":1.7,"w":104},{"x":0.2,"y":1.8,"w":89},{"x":0.2,"y":1.9,"w":80},{"x":0.2,"y":2,"w":71},
{"x":0.225,"y":0},{"x":0.225,"y":0.1},{"x":0.225,"y":0.2},{"x":0.225,"y":0.3},{"x":0.225,"y":0.4},{"x":0.225,"y":0.5},{"x":0.225,"y":0.6},{"x":0.225,"y":0.7},{"x":0.225,"y":0.8},{"x":0.225,"y":0.9},{"x":0.225,"y":1},{"x":0.225,"y":1.1},{"x":0.225,"y":1.2},{"x":0.225,"y":1.3},{"x":0.225,"y":1.4},{"x":0.225,"y":1.5,"w":150},{"x":0.225,"y":1.6,"w":113},{"x":0.225,"y":1.7,"w":102},{"x":0.225,"y":1.8,"w":88},{"x":0.225,"y":1.9,"w":79},{"x":0.225,"y":2,"w":70},
{"x":0.25,"y":0},{"x":0.25,"y":0.1},{"x":0.25,"y":0.2},{"x":0.25,"y":0.3},{"x":0.25,"y":0.4},{"x":0.25,"y":0.5},{"x":0.25,"y":0.6},{"x":0.25,"y":0.7},{"x":0.25,"y":0.8},{"x":0.25,"y":0.9},{"x":0.25,"y":1},{"x":0.25,"y":1.1},{"x":0.25,"y":1.2},{"x":0.25,"y":1.3},{"x":0.25,"y":1.4,"w":250},{"x":0.25,"y":1.5,"w":136},{"x":0.25,"y":1.6,"w":110},{"x":0.25,"y":1.7,"w":100},{"x":0.25,"y":1.8,"w":86},{"x":0.25,"y":1.9,"w":78},{"x":0.25,"y":2,"w":69},
{"x":0.275,"y":0},{"x":0.275,"y":0.1},{"x":0.275,"y":0.2},{"x":0.275,"y":0.3},{"x":0.275,"y":0.4},{"x":0.275,"y":0.5},{"x":0.275,"y":0.6},{"x":0.275,"y":0.7},{"x":0.275,"y":0.8},{"x":0.275,"y":0.9},{"x":0.275,"y":1},{"x":0.275,"y":1.1},{"x":0.275,"y":1.2},{"x":0.275,"y":1.3},{"x":0.275,"y":1.4,"w":205},{"x":0.275,"y":1.5,"w":128},{"x":0.275,"y":1.6,"w":107},{"x":0.275,"y":1.7,"w":97},{"x":0.275,"y":1.8,"w":85},{"x":0.275,"y":1.9,"w":77},{"x":0.275,"y":2,"w":68},
{"x":0.3,"y":0},{"x":0.3,"y":0.1},{"x":0.3,"y":0.2},{"x":0.3,"y":0.3},{"x":0.3,"y":0.4},{"x":0.3,"y":0.5},{"x":0.3,"y":0.6},{"x":0.3,"y":0.7},{"x":0.3,"y":0.8},{"x":0.3,"y":0.9},{"x":0.3,"y":1},{"x":0.3,"y":1.1},{"x":0.3,"y":1.2},{"x":0.3,"y":1.3},{"x":0.3,"y":1.4,"w":173},{"x":0.3,"y":1.5,"w":121},{"x":0.3,"y":1.6,"w":104},{"x":0.3,"y":1.7,"w":95},{"x":0.3,"y":1.8,"w":84},{"x":0.3,"y":1.9,"w":76},{"x":0.3,"y":2,"w":68},
{"x":0.325,"y":0},{"x":0.325,"y":0.1},{"x":0.325,"y":0.2},{"x":0.325,"y":0.3},{"x":0.325,"y":0.4},{"x":0.325,"y":0.5},{"x":0.325,"y":0.6},{"x":0.325,"y":0.7},{"x":0.325,"y":0.8},{"x":0.325,"y":0.9},{"x":0.325,"y":1},{"x":0.325,"y":1.1},{"x":0.325,"y":1.2},{"x":0.325,"y":1.3},{"x":0.325,"y":1.4,"w":152},{"x":0.325,"y":1.5,"w":116},{"x":0.325,"y":1.6,"w":102},{"x":0.325,"y":1.7,"w":93},{"x":0.325,"y":1.8,"w":83},{"x":0.325,"y":1.9,"w":75},{"x":0.325,"y":2,"w":67},
{"x":0.35,"y":0},{"x":0.35,"y":0.1},{"x":0.35,"y":0.2},{"x":0.35,"y":0.3},{"x":0.35,"y":0.4},{"x":0.35,"y":0.5},{"x":0.35,"y":0.6},{"x":0.35,"y":0.7},{"x":0.35,"y":0.8},{"x":0.35,"y":0.9},{"x":0.35,"y":1},{"x":0.35,"y":1.1},{"x":0.35,"y":1.2},{"x":0.35,"y":1.3,"w":258},{"x":0.35,"y":1.4,"w":137},{"x":0.35,"y":1.5,"w":110},{"x":0.35,"y":1.6,"w":100},{"x":0.35,"y":1.7,"w":91},{"x":0.35,"y":1.8,"w":81},{"x":0.35,"y":1.9,"w":74},{"x":0.35,"y":2,"w":66},
{"x":0.375,"y":0},{"x":0.375,"y":0.1},{"x":0.375,"y":0.2},{"x":0.375,"y":0.3},{"x":0.375,"y":0.4},{"x":0.375,"y":0.5},{"x":0.375,"y":0.6},{"x":0.375,"y":0.7},{"x":0.375,"y":0.8},{"x":0.375,"y":0.9},{"x":0.375,"y":1},{"x":0.375,"y":1.1},{"x":0.375,"y":1.2},{"x":0.375,"y":1.3,"w":203},{"x":0.375,"y":1.4,"w":128},{"x":0.375,"y":1.5,"w":107},{"x":0.375,"y":1.6,"w":98},{"x":0.375,"y":1.7,"w":89},{"x":0.375,"y":1.8,"w":80},{"x":0.375,"y":1.9,"w":73},{"x":0.375,"y":2,"w":65},
{"x":0.4,"y":0},{"x":0.4,"y":0.1},{"x":0.4,"y":0.2},{"x":0.4,"y":0.3},{"x":0.4,"y":0.4},{"x":0.4,"y":0.5},{"x":0.4,"y":0.6},{"x":0.4,"y":0.7},{"x":0.4,"y":0.8},{"x":0.4,"y":0.9},{"x":0.4,"y":1},{"x":0.4,"y":1.1},{"x":0.4,"y":1.2},{"x":0.4,"y":1.3,"w":168},{"x":0.4,"y":1.4,"w":122},{"x":0.4,"y":1.5,"w":104},{"x":0.4,"y":1.6,"w":96},{"x":0.4,"y":1.7,"w":87},{"x":0.4,"y":1.8,"w":79},{"x":0.4,"y":1.9,"w":72},{"x":0.4,"y":2,"w":65},
{"x":0.425,"y":0},{"x":0.425,"y":0.1},{"x":0.425,"y":0.2},{"x":0.425,"y":0.3},{"x":0.425,"y":0.4},{"x":0.425,"y":0.5},{"x":0.425,"y":0.6},{"x":0.425,"y":0.7},{"x":0.425,"y":0.8},{"x":0.425,"y":0.9},{"x":0.425,"y":1},{"x":0.425,"y":1.1},{"x":0.425,"y":1.2},{"x":0.425,"y":1.3,"w":153},{"x":0.425,"y":1.4,"w":117},{"x":0.425,"y":1.5,"w":102},{"x":0.425,"y":1.6,"w":94},{"x":0.425,"y":1.7,"w":86},{"x":0.425,"y":1.8,"w":78},{"x":0.425,"y":1.9,"w":71},{"x":0.425,"y":2,"w":64},
{"x":0.45,"y":0},{"x":0.45,"y":0.1},{"x":0.45,"y":0.2},{"x":0.45,"y":0.3},{"x":0.45,"y":0.4},{"x":0.45,"y":0.5},{"x":0.45,"y":0.6},{"x":0.45,"y":0.7},{"x":0.45,"y":0.8},{"x":0.45,"y":0.9},{"x":0.45,"y":1},{"x":0.45,"y":1.1},{"x":0.45,"y":1.2,"w":262},{"x":0.45,"y":1.3,"w":134},{"x":0.45,"y":1.4,"w":112},{"x":0.45,"y":1.5,"w":100},{"x":0.45,"y":1.6,"w":92},{"x":0.45,"y":1.7,"w":84},{"x":0.45,"y":1.8,"w":77},{"x":0.45,"y":1.9,"w":70},{"x":0.45,"y":2,"w":63},
{"x":0.475,"y":0},{"x":0.475,"y":0.1},{"x":0.475,"y":0.2},{"x":0.475,"y":0.3},{"x":0.475,"y":0.4},{"x":0.475,"y":0.5},{"x":0.475,"y":0.6},{"x":0.475,"y":0.7},{"x":0.475,"y":0.8},{"x":0.475,"y":0.9},{"x":0.475,"y":1},{"x":0.475,"y":1.1},{"x":0.475,"y":1.2,"w":201},{"x":0.475,"y":1.3,"w":127},{"x":0.475,"y":1.4,"w":109},{"x":0.475,"y":1.5,"w":98},{"x":0.475,"y":1.6,"w":91},{"x":0.475,"y":1.7,"w":83},{"x":0.475,"y":1.8,"w":76},{"x":0.475,"y":1.9,"w":69},{"x":0.475,"y":2,"w":63},
{"x":0.5,"y":0},{"x":0.5,"y":0.1},{"x":0.5,"y":0.2},{"x":0.5,"y":0.3},{"x":0.5,"y":0.4},{"x":0.5,"y":0.5},{"x":0.5,"y":0.6},{"x":0.5,"y":0.7},{"x":0.5,"y":0.8},{"x":0.5,"y":0.9},{"x":0.5,"y":1},{"x":0.5,"y":1.1},{"x":0.5,"y":1.2,"w":169},{"x":0.5,"y":1.3,"w":120},{"x":0.5,"y":1.4,"w":107},{"x":0.5,"y":1.5,"w":97},{"x":0.5,"y":1.6,"w":90},{"x":0.5,"y":1.7,"w":82},{"x":0.5,"y":1.8,"w":75},{"x":0.5,"y":1.9,"w":68},{"x":0.5,"y":2,"w":62}
]},
"encoding":{
"x":{"field":"x","type":"ordinal","title":"Germline resistance rate","scale":{"paddingInner":0,"paddingOuter":0},"axis":{"values":[0,0.1,0.2,0.3,0.4,0.5]}},
"y":{"field":"y","type":"ordinal","title":"Drop ratio","scale":{"domain":[2,1.9,1.8,1.7,1.6,1.5,1.4,1.3,1.2,1.1,1,0.9,0.8,0.7,0.6,0.5,0.4,0.3,0.2,0.1,0],"paddingInner":0,"paddingOuter":0},"axis":{"values":[2,1.5,1,0.5,0],"labelExpr":"datum.value == 0 ? '0' : format(datum.value, '.1f')"}}
},
"layer":[
{"transform":[{"filter":"!isValid(datum.w)"}],"mark":{"type":"rect","color":"#999999","stroke":"#999999","strokeWidth":0.5},"encoding":{}},
{"transform":[{"filter":"isValid(datum.w)"}],"mark":{"type":"rect"},"encoding":{
"color":{"field":"w","type":"quantitative","scale":{"scheme":"magma","reverse":true,"domain":[0,300]},"legend":{"type":"gradient","title":"Weeks to population elimination","orient":"none","legendX":185,"legendY":401,"direction":"horizontal","titleOrient":"left","titleBaseline":"top","titleLimit":800,"gradientLength":358,"gradientThickness":10,"values":[0,100,200,300],"labelFontSize":24,"labelOffset":0,"labelFont":"Liberation Serif","labelColor":"black","labelAlign":"center","titleFontSize":27,"titleFont":"Liberation Serif","titleFontWeight":"normal","titleColor":"black","titlePadding":12,"gradientStrokeWidth":0}}}}
]}
]
}
